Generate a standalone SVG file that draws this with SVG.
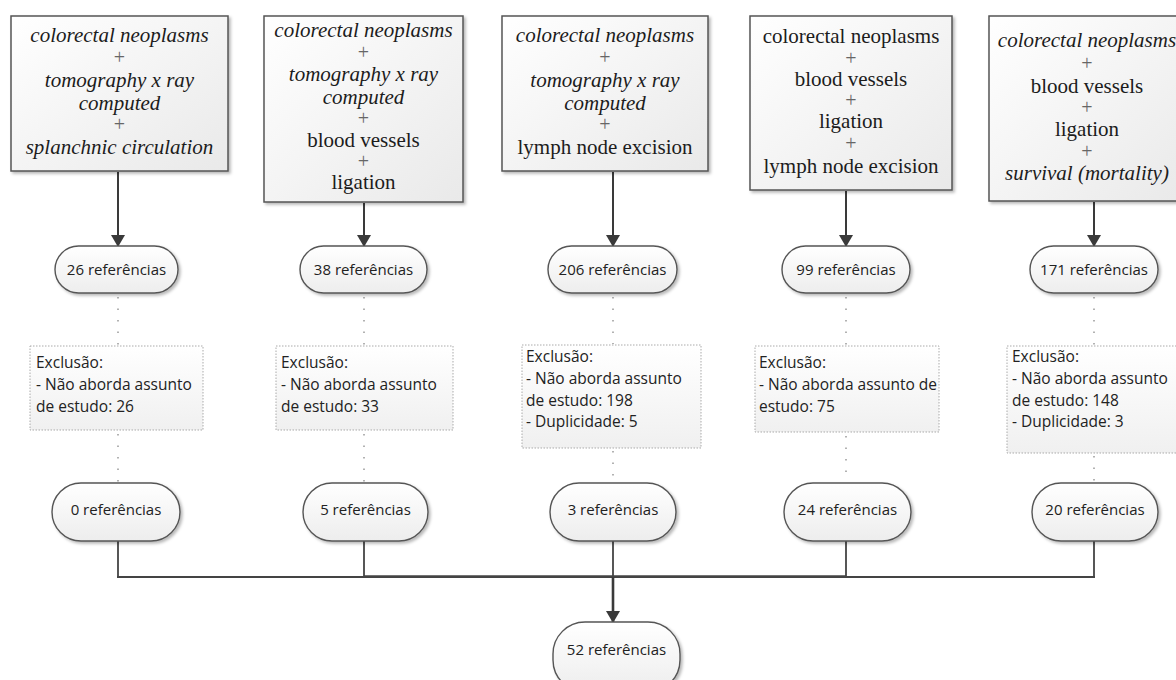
<svg xmlns="http://www.w3.org/2000/svg" width="1176" height="680" viewBox="0 0 1176 680">
<defs>
  <linearGradient id="gBox" x1="0" y1="0" x2="1" y2="1">
    <stop offset="0" stop-color="#ffffff"/>
    <stop offset="1" stop-color="#e9e9e9"/>
  </linearGradient>
  <linearGradient id="gOval" x1="0" y1="0" x2="0" y2="1">
    <stop offset="0" stop-color="#ffffff"/>
    <stop offset="1" stop-color="#ededed"/>
  </linearGradient>
  <linearGradient id="gExc" x1="0" y1="0" x2="0" y2="1">
    <stop offset="0" stop-color="#ffffff"/>
    <stop offset="1" stop-color="#f0f0f0"/>
  </linearGradient>
  <filter id="sh" x="-10%" y="-10%" width="130%" height="130%">
    <feDropShadow dx="2" dy="2" stdDeviation="1.5" flood-color="#000" flood-opacity="0.28"/>
  </filter>
  <marker id="arr" viewBox="0 0 12 14" refX="11" refY="7" markerWidth="12" markerHeight="14" markerUnits="userSpaceOnUse" orient="auto">
    <path d="M0,0 L12,7 L0,14 Z" fill="#3a3a3a"/>
  </marker>
</defs>
<style>
  .box { fill: url(#gBox); stroke: #555; stroke-width: 1.5; filter: url(#sh); }
  .oval { fill: url(#gOval); stroke: #555; stroke-width: 1.4; filter: url(#sh); }
  .exc { fill: url(#gExc); stroke: #aaa; stroke-width: 1; stroke-dasharray: 1.5 1.5; }
  .t { font-family: "Liberation Serif", "Times New Roman", serif; font-size: 21px; fill: #1c1c1c; text-anchor: middle; }
  .i { font-style: italic; }
  .p { fill: #666; font-size: 20px; }
  .s { font-family: "Open Sans", "Noto Sans", sans-serif; font-size: 15px; fill: #222; text-anchor: middle; }
  .e { font-family: "Open Sans", "Noto Sans", sans-serif; font-size: 15.5px; fill: #222; }
  .arrow { stroke: #3a3a3a; stroke-width: 2; fill: none; marker-end: url(#arr); }
  .dot { stroke: #999; stroke-width: 1.5; stroke-dasharray: 1.5 10; fill: none; }
  .ln { stroke: #444; stroke-width: 1.8; fill: none; }
</style>

<g id="connectors">
  <line class="arrow" x1="118" y1="172" x2="118" y2="246"/>
  <line class="arrow" x1="364" y1="203" x2="364" y2="246"/>
  <line class="arrow" x1="613" y1="172" x2="613" y2="246"/>
  <line class="arrow" x1="846" y1="191" x2="846" y2="246"/>
  <line class="arrow" x1="1094" y1="202" x2="1094" y2="246"/>

  <line class="dot" x1="118" y1="297" x2="118" y2="345"/>
  <line class="dot" x1="364" y1="297" x2="364" y2="345"/>
  <line class="dot" x1="613" y1="297" x2="613" y2="344"/>
  <line class="dot" x1="846" y1="297" x2="846" y2="345"/>
  <line class="dot" x1="1094" y1="297" x2="1094" y2="345"/>

  <line class="dot" x1="118" y1="434" x2="118" y2="482"/>
  <line class="dot" x1="364" y1="434" x2="364" y2="482"/>
  <line class="dot" x1="613" y1="451" x2="613" y2="482"/>
  <line class="dot" x1="846" y1="436" x2="846" y2="482"/>
  <line class="dot" x1="1094" y1="456" x2="1094" y2="482"/>

  <line class="ln" x1="118" y1="541" x2="118" y2="577"/>
  <line class="ln" x1="364" y1="541" x2="364" y2="577"/>
  <line class="ln" x1="613" y1="541" x2="613" y2="577"/>
  <line class="ln" x1="846" y1="541" x2="846" y2="577"/>
  <line class="ln" x1="1094" y1="541" x2="1094" y2="577"/>
  <line class="ln" x1="117" y1="577" x2="1095" y2="577"/>
  <line x1="364" y1="576.5" x2="846" y2="576.5" stroke="#444" stroke-width="2.6"/>
  <line class="arrow" x1="613" y1="577" x2="613" y2="622" style="stroke-width:2.6"/>
</g>

<g id="q1">
  <rect class="box" x="11" y="16" width="217" height="155"/>
  <text class="t i" x="119.5" y="42">colorectal neoplasms</text>
  <text class="t p" x="119.5" y="64">+</text>
  <text class="t i" x="119.5" y="87">tomography x ray</text>
  <text class="t i" x="119.5" y="110">computed</text>
  <text class="t p" x="119.5" y="131">+</text>
  <text class="t i" x="119.5" y="154">splanchnic circulation</text>
</g>
<g id="q2">
  <rect class="box" x="264" y="16" width="199" height="186"/>
  <text class="t i" x="363.5" y="37">colorectal neoplasms</text>
  <text class="t p" x="363.5" y="59">+</text>
  <text class="t i" x="363.5" y="81">tomography x ray</text>
  <text class="t i" x="363.5" y="104">computed</text>
  <text class="t p" x="363.5" y="125">+</text>
  <text class="t" x="363.5" y="147">blood vessels</text>
  <text class="t p" x="363.5" y="168">+</text>
  <text class="t" x="363.5" y="189">ligation</text>
</g>
<g id="q3">
  <rect class="box" x="502" y="16" width="206" height="155"/>
  <text class="t i" x="605" y="42">colorectal neoplasms</text>
  <text class="t p" x="605" y="64">+</text>
  <text class="t i" x="605" y="87">tomography x ray</text>
  <text class="t i" x="605" y="110">computed</text>
  <text class="t p" x="605" y="131">+</text>
  <text class="t" x="605" y="154">lymph node excision</text>
</g>
<g id="q4">
  <rect class="box" x="750" y="16" width="202" height="174"/>
  <text class="t" x="851" y="43">colorectal neoplasms</text>
  <text class="t p" x="851" y="65">+</text>
  <text class="t" x="851" y="86">blood vessels</text>
  <text class="t p" x="851" y="107">+</text>
  <text class="t" x="851" y="128">ligation</text>
  <text class="t p" x="851" y="150">+</text>
  <text class="t" x="851" y="173">lymph node excision</text>
</g>
<g id="q5">
  <rect class="box" x="989" y="16" width="200" height="185"/>
  <text class="t i" x="1087" y="47">colorectal neoplasms</text>
  <text class="t p" x="1087" y="70">+</text>
  <text class="t" x="1087" y="93">blood vessels</text>
  <text class="t p" x="1087" y="114">+</text>
  <text class="t" x="1087" y="136">ligation</text>
  <text class="t p" x="1087" y="158">+</text>
  <text class="t i" x="1087" y="180">survival (mortality)</text>
</g>

<g id="r1"><rect class="oval" x="55" y="246" width="123" height="47" rx="23.5"/><text class="s" x="116.5" y="275">26 referências</text></g>
<g id="r2"><rect class="oval" x="300" y="246" width="127" height="47" rx="23.5"/><text class="s" x="363.5" y="275">38 referências</text></g>
<g id="r3"><rect class="oval" x="548" y="246" width="129" height="47" rx="23.5"/><text class="s" x="612.5" y="275">206 referências</text></g>
<g id="r4"><rect class="oval" x="782" y="246" width="128" height="47" rx="23.5"/><text class="s" x="846" y="275">99 referências</text></g>
<g id="r5"><rect class="oval" x="1030" y="246" width="128" height="47" rx="23.5"/><text class="s" x="1094" y="275">171 referências</text></g>

<g id="x1">
  <rect class="exc" x="30" y="346" width="173" height="84"/>
  <text class="e" x="36" y="368">Exclusão:</text>
  <text class="e" x="36" y="390">- Não aborda assunto</text>
  <text class="e" x="36" y="412">de estudo: 26</text>
</g>
<g id="x2">
  <rect class="exc" x="276" y="346" width="177" height="84"/>
  <text class="e" x="281" y="368">Exclusão:</text>
  <text class="e" x="281" y="390">- Não aborda assunto</text>
  <text class="e" x="281" y="412">de estudo: 33</text>
</g>
<g id="x3">
  <rect class="exc" x="522" y="345" width="179" height="103"/>
  <text class="e" x="526" y="362">Exclusão:</text>
  <text class="e" x="526" y="384">- Não aborda assunto</text>
  <text class="e" x="526" y="406">de estudo: 198</text>
  <text class="e" x="526" y="427">- Duplicidade: 5</text>
</g>
<g id="x4">
  <rect class="exc" x="755" y="346" width="184" height="86"/>
  <text class="e" x="759" y="368">Exclusão:</text>
  <text class="e" x="759" y="390">- Não aborda assunto de</text>
  <text class="e" x="759" y="412">estudo: 75</text>
</g>
<g id="x5">
  <rect class="exc" x="1007" y="346" width="175" height="107"/>
  <text class="e" x="1012" y="362">Exclusão:</text>
  <text class="e" x="1012" y="384">- Não aborda assunto</text>
  <text class="e" x="1012" y="406">de estudo: 148</text>
  <text class="e" x="1012" y="427">- Duplicidade: 3</text>
</g>

<g id="f1"><rect class="oval" x="52" y="483" width="128" height="58" rx="29"/><text class="s" x="116" y="515">0 referências</text></g>
<g id="f2"><rect class="oval" x="303" y="483" width="125" height="58" rx="29"/><text class="s" x="365.5" y="515">5 referências</text></g>
<g id="f3"><rect class="oval" x="550" y="483" width="126" height="58" rx="29"/><text class="s" x="613" y="515">3 referências</text></g>
<g id="f4"><rect class="oval" x="784" y="483" width="127" height="58" rx="29"/><text class="s" x="847.5" y="515">24 referências</text></g>
<g id="f5"><rect class="oval" x="1032" y="483" width="126" height="58" rx="29"/><text class="s" x="1095" y="515">20 referências</text></g>

<g id="total"><rect class="oval" x="553" y="622" width="127" height="70" rx="32"/><text class="s" x="616.5" y="655">52 referências</text></g>
</svg>
